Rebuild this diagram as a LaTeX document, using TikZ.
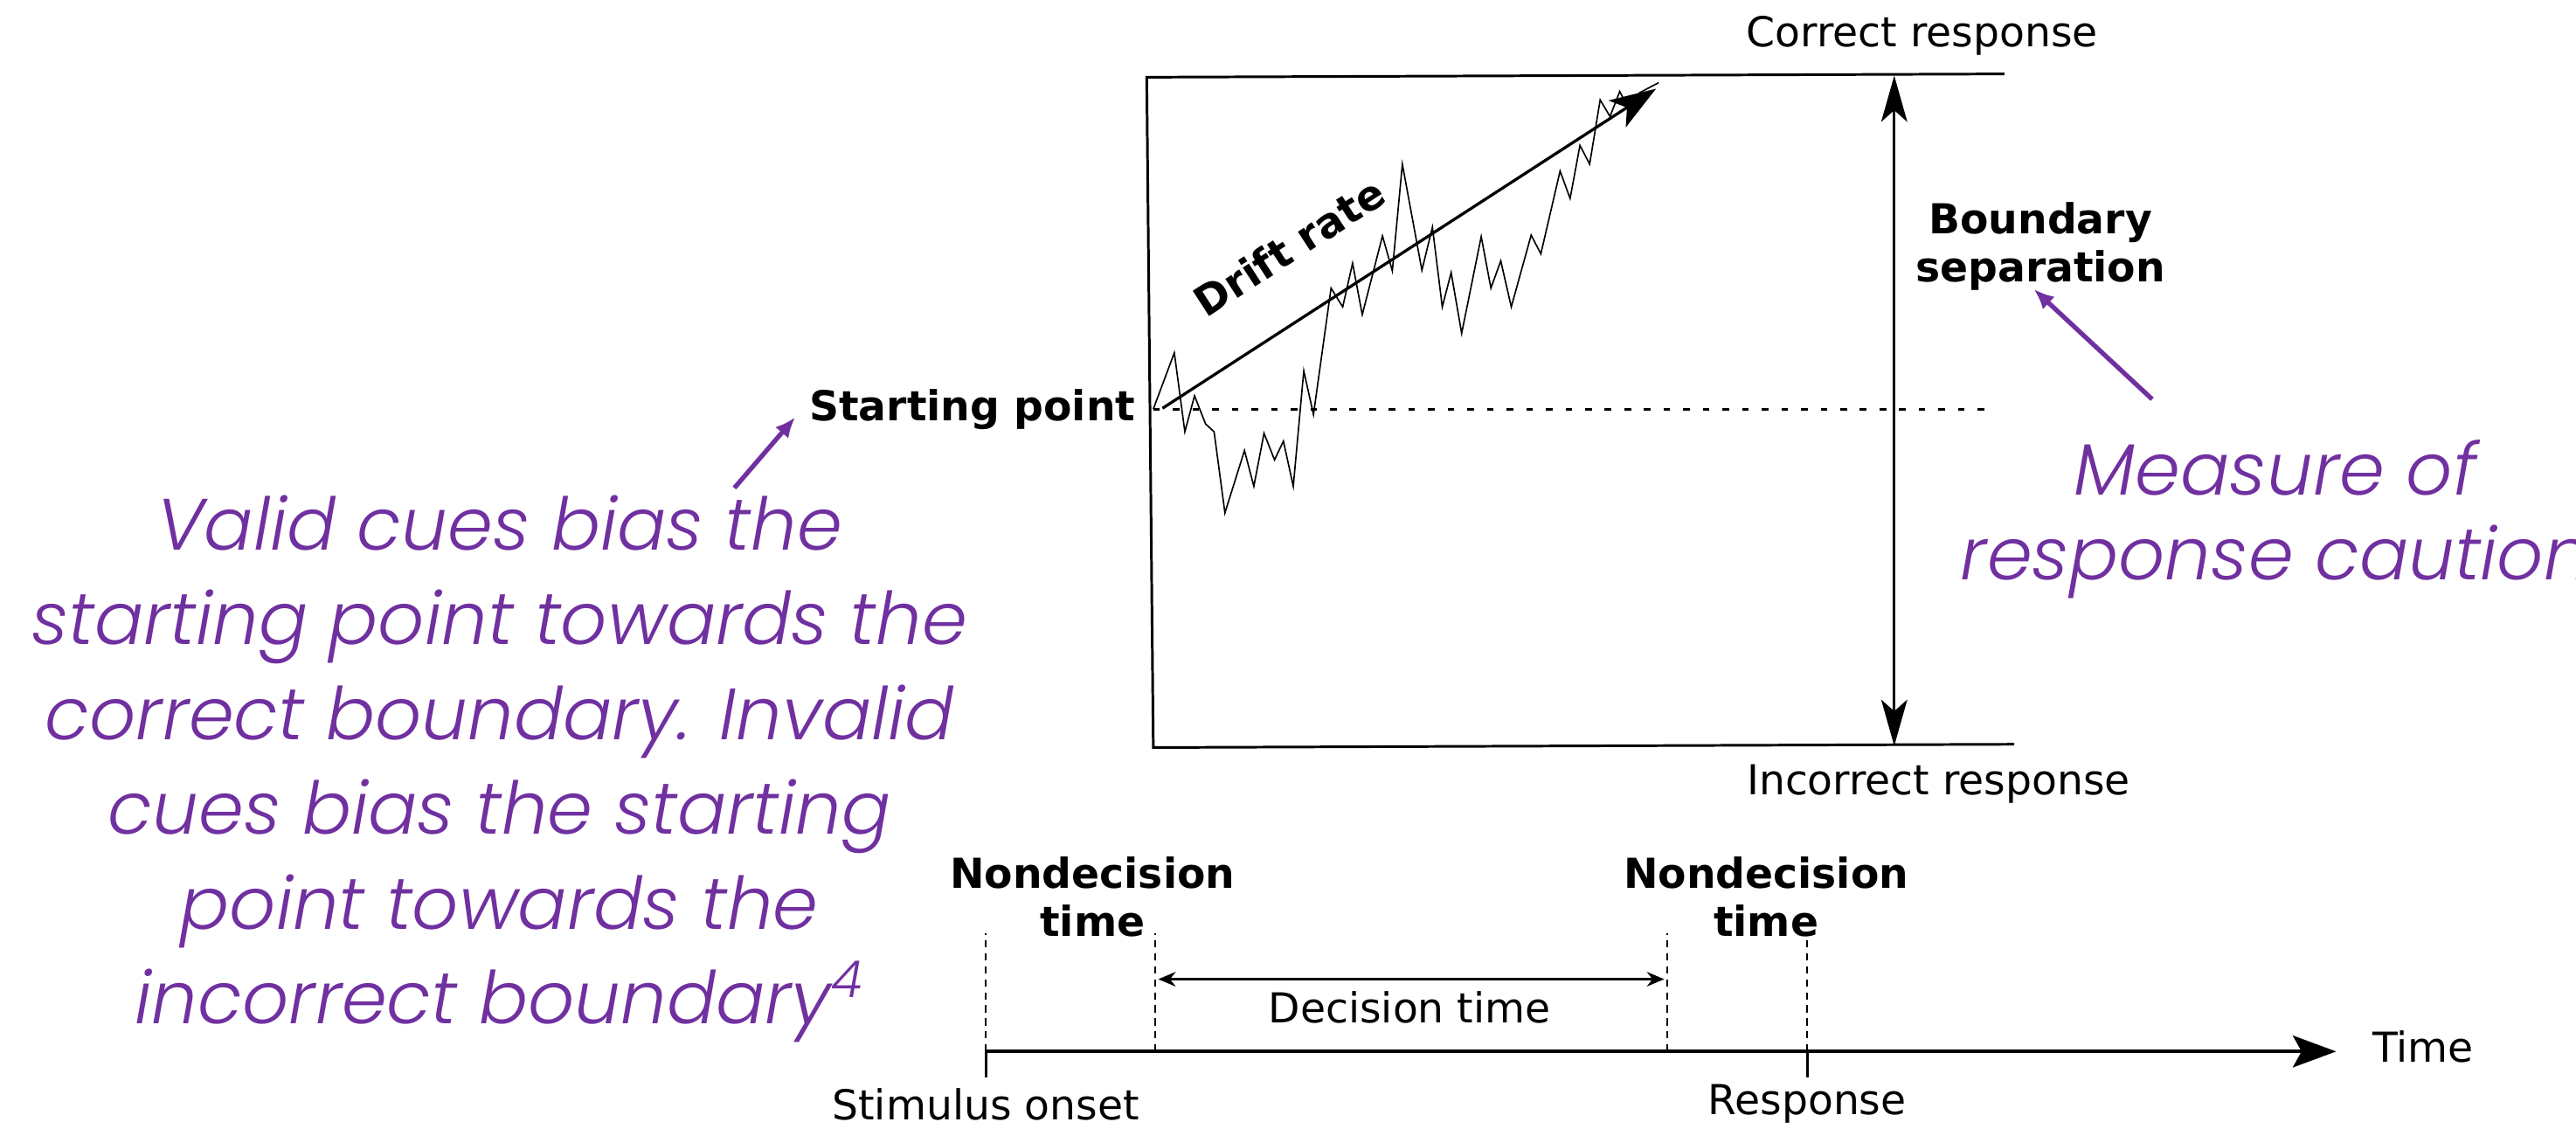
\documentclass[tikz,border=0pt]{standalone}
\usepackage{fontspec}
\usepackage{tikz}
\usetikzlibrary{arrows.meta, positioning}
\setmainfont{DejaVu Sans}
\newfontfamily\cuefont{Poppins}[UprightFont=* Light, ItalicFont=* Light Italic]
\definecolor{cuepurple}{RGB}{112, 48, 160}

\begin{document}
\begin{tikzpicture}[
    x=0.02cm, y=-0.02cm,
    plaintext/.style={font=\fontsize{14.3}{17}\selectfont, inner sep=2pt},
    boldtext/.style={font=\bfseries\fontsize{14.3}{16.5}\selectfont, align=center, inner sep=2pt},
    cuetext/.style={font=\cuefont\itshape\fontsize{25.2}{32.8}\selectfont, text=cuepurple, align=center},
    bound/.style={line width=0.9pt},
    midline/.style={line width=1pt, dash pattern=on 2.3pt off 4.5pt},
    walk/.style={line width=0.5pt, line join=miter},
    driftarrow/.style={line width=1pt, -{Stealth[length=16pt, width=11pt, inset=4pt]}},
    separrow/.style={line width=1pt, {Stealth[length=16pt, width=9pt, inset=4pt]}-{Stealth[length=16pt, width=9pt, inset=4pt]}},
    timeaxis/.style={line width=1.2pt, -{Stealth[length=15pt, width=11pt, inset=3pt]}},
    spanarrow/.style={line width=1pt, {Stealth[length=6pt, width=5pt]}-{Stealth[length=6pt, width=5pt]}},
    guide/.style={line width=0.6pt, dash pattern=on 2.5pt off 2pt},
    pointer/.style={line width=1.6pt, cuepurple, -{Latex[length=7pt, width=6pt]}}
]
    \useasboundingbox (0,0) rectangle (1568,687);

    % boundaries
    \coordinate (topleft) at (698,47);
    \coordinate (topright) at (1220,45);
    \coordinate (botleft) at (702,455);
    \coordinate (botright) at (1226,453);
    \draw[bound] (topright) -- (topleft) -- (botleft) -- (botright);
    \node[plaintext] (correct) at (1170,22) {Correct response};
    \node[plaintext] (incorrect) at (1180,477) {Incorrect response};

    % boundary separation
    \coordinate (septop) at (1153,46);
    \coordinate (sepbot) at (1153,454);
    \draw[separrow] (sepbot) -- (septop);
    \node[boldtext] (separation) at (1242,150) {Boundary\\separation};

    % starting point
    \coordinate (start) at (702,249);
    \coordinate (midend) at (1212,249);
    \draw[midline] (start) -- (midend);
    \node[boldtext, left=4pt of start] (startlbl) {Starting point};

    % sample path
    \draw[walk] (start) -- (714.8,214.7) -- (721.2,262.8) -- (727.1,240.9)
        -- (733.8,258.0) -- (739.0,262.8) -- (745.6,312.2) -- (757.5,274.2)
        -- (763.2,296.0) -- (769.4,263.7) -- (775.8,279.9) -- (781.2,268.5)
        -- (787.2,296.0) -- (793.6,225.7) -- (799.5,252.3) -- (810.2,175.4)
        -- (817.3,186.8) -- (823.3,160.2) -- (829.2,191.5) -- (841.5,143.6)
        -- (847.5,164.9) -- (853.6,99.9) -- (865.5,164.5) -- (871.9,138.3)
        -- (877.9,186.8) -- (883.3,165.9) -- (889.7,202.9) -- (901.6,144.0)
        -- (907.5,175.4) -- (913.5,158.8) -- (919.9,186.8) -- (932.0,143.1)
        -- (937.9,154.5) -- (949.6,104.1) -- (955.7,120.8) -- (961.7,88.5)
        -- (967.6,99.9) -- (974.0,60.8) -- (980.0,70.9) -- (985.9,55.7)
        -- (991.8,67.1) -- (997.7,56.6) -- (1009.6,50.3);

    % drift
    \coordinate (driftbeg) at (707.6,248.5);
    \coordinate (drifttip) at (1008,54);
    \draw[driftarrow] (driftbeg) -- node[boldtext, pos=0.33, sloped, above=15pt] (driftlbl) {Drift rate} (drifttip);

    % annotations
    \node[cuetext] (cuenote) at (304,468) {Valid cues bias the\\starting point towards the\\correct boundary. Invalid\\cues bias the starting\\point towards the\\incorrect boundary\textsuperscript{4}};
    \coordinate (cuetail) at (447,297);
    \coordinate (cuehead) at (484,254);
    \draw[pointer] (cuetail) -- (cuehead);

    \node[cuetext, font=\cuefont\itshape\fontsize{25.2}{29.6}\selectfont] (cautionnote) at (1385,316) {Measure of\\response caution};
    \coordinate (cautiontail) at (1310,243);
    \coordinate (cautionhead) at (1238,176);
    \draw[pointer] (cautiontail) -- (cautionhead);

    % time line
    \coordinate (onset) at (600,640);
    \coordinate (encend) at (703,640);
    \coordinate (motorbeg) at (1015,640);
    \coordinate (respond) at (1100,640);
    \coordinate (timeend) at (1422,640);
    \draw[timeaxis] (onset) -- (timeend);
    \node[plaintext] (timelbl) at (1475,637) {Time};
    \foreach \c in {onset, respond}
        \draw[line width=0.9pt] (\c) -- ++(0,16);
    \foreach \c in {onset, encend, motorbeg, respond}
        \draw[guide] (\c) -- ++(0,-72);
    \node[plaintext] (onsetlbl) at (600,672) {Stimulus onset};
    \node[plaintext] (resplbl) at (1100,672) {Response};

    \coordinate (decbeg) at (705,596);
    \coordinate (decend) at (1013,596);
    \draw[spanarrow] (decbeg) -- (decend);
    \node[plaintext] (declbl) at (858,613) {Decision time};
    \node[boldtext] (nondec1) at (665,546) {Nondecision\\time};
    \node[boldtext] (nondec2) at (1075,546) {Nondecision\\time};
\end{tikzpicture}
\end{document}
